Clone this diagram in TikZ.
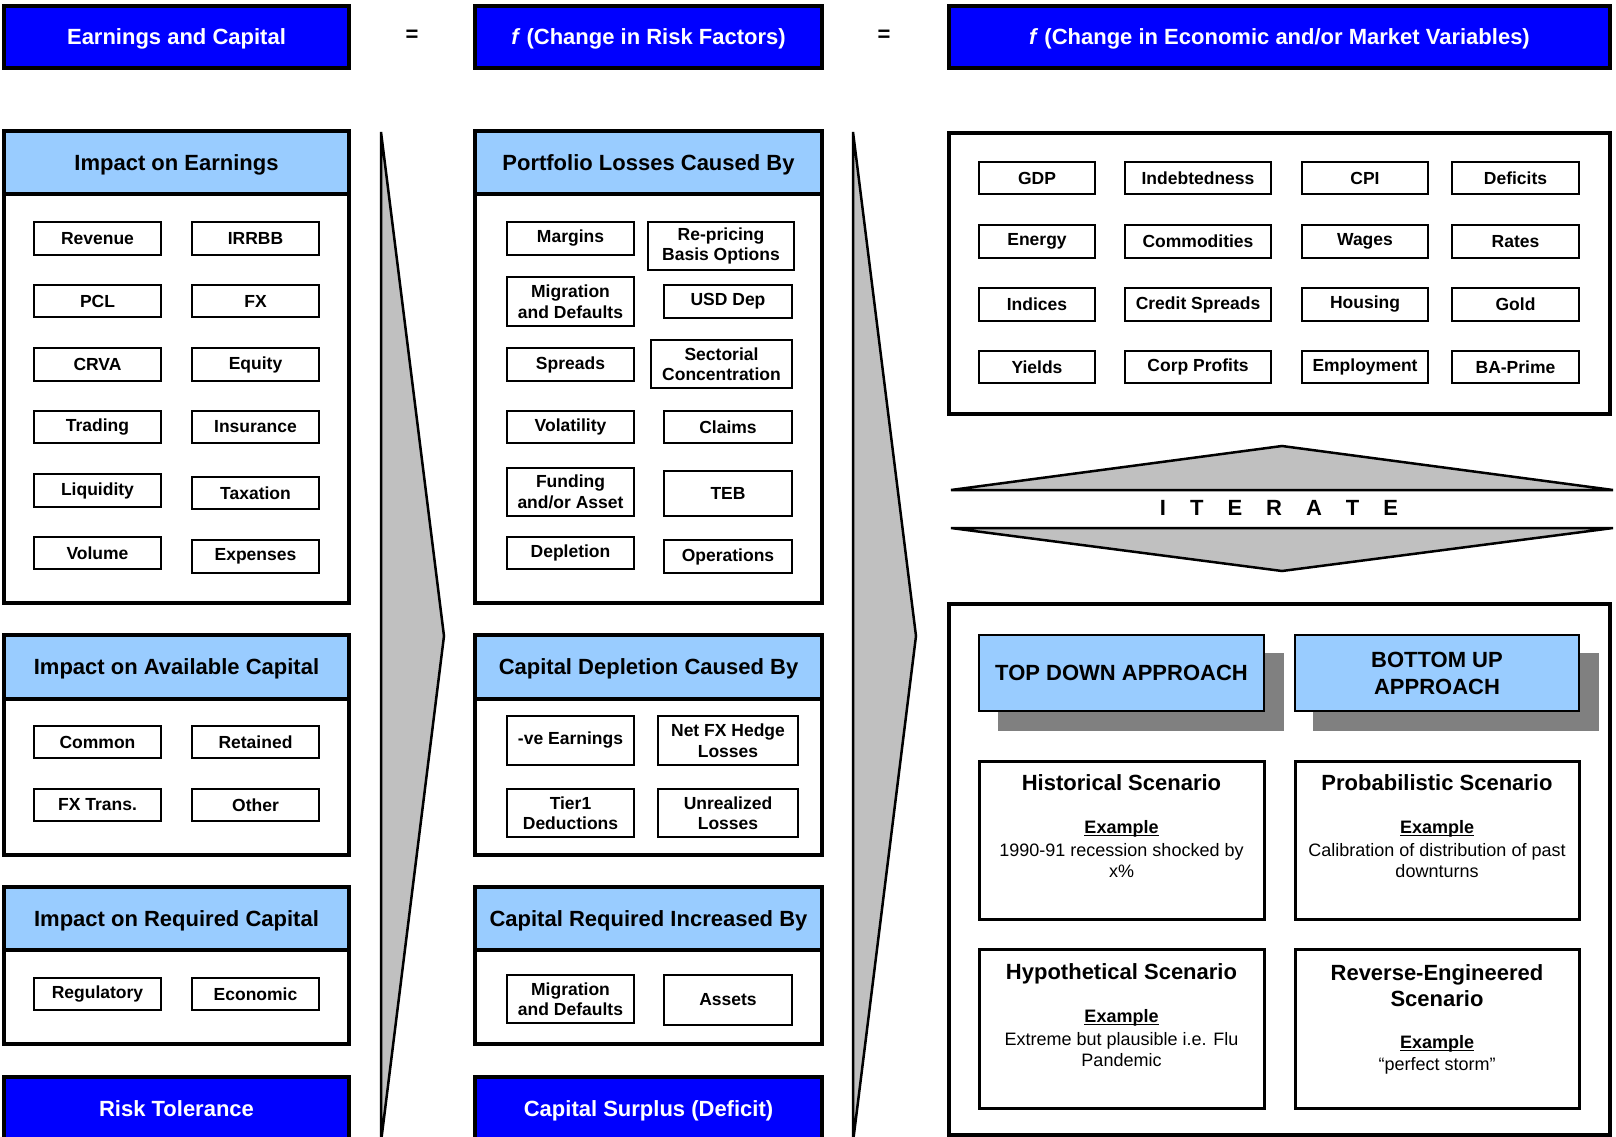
\documentclass[tikz,border=0pt]{standalone}
\usepackage{fontspec}
\setmainfont{Liberation Sans}
\definecolor{myblue}{HTML}{0000FF}
\definecolor{lightb}{HTML}{99CCFF}
\definecolor{agrey}{HTML}{C0C0C0}
\definecolor{sgrey}{HTML}{808080}
\newcommand\mybox[7][]{%
  \pgfmathsetmacro\bxcx{(#3+#5)/2}%
  \pgfmathsetmacro\bxcy{(#4+#6)/2}%
  \pgfmathsetmacro\bxw{#5-#3}%
  \pgfmathsetmacro\bxh{#6-#4}%
  \node[#1, minimum width=\bxw pt, minimum height=\bxh pt] (#2) at (\bxcx,\bxcy) {#7};}
\newcommand\myul[1]{{\setbox0\hbox{#1}\rlap{\rule[-2.6pt]{\wd0}{1.4pt}}\box0}}
\tikzset{
  big/.style={draw, line width=4pt, fill=myblue, text=white, inner sep=0pt,
    text height=15.8pt, text depth=0pt,
    font=\fontsize{22}{26}\selectfont\bfseries},
  hdr/.style={draw, line width=4pt, fill=lightb, inner sep=0pt,
    text height=15.8pt, text depth=0pt,
    font=\fontsize{22}{26}\selectfont\bfseries},
  body/.style={draw, line width=4pt, fill=white, inner sep=0pt},
  item/.style={draw, line width=2.5pt, fill=white, inner sep=0pt, align=center,
    font=\fontsize{17.5}{20.5}\selectfont\bfseries},
  scen/.style={draw, line width=3pt, fill=white, inner sep=0pt},
  appr/.style={draw, line width=2.5pt, fill=lightb, inner sep=0pt, align=center,
    font=\fontsize{22}{27}\selectfont\bfseries},
  shad/.style={fill=sgrey, inner sep=0pt},
  tri/.style={draw, line width=2.5pt, fill=agrey, line join=miter},
  eqs/.style={font=\fontsize{22}{26}\selectfont\bfseries, inner sep=0pt},
  stitle/.style={font=\fontsize{22}{26}\selectfont\bfseries, align=center, inner sep=0pt},
  sex/.style={font=\fontsize{18}{21}\selectfont\bfseries, inner sep=0pt},
  sbody/.style={font=\fontsize{18}{21}\selectfont, align=center, inner sep=0pt},
}
\begin{document}
\begin{tikzpicture}[x=1pt,y=-1pt]
\useasboundingbox (0,0) rectangle (1616,1137);
\fill[white] (0,0) rectangle (1616,1137);
% ---------- top row
\mybox[big]{ec}{4}{6}{349}{68}{Earnings and Capital}
\node[eqs] (eq1) at (412,36) {=};
\mybox[big]{rf}{475}{6}{822}{68}{\textit{f} (Change in Risk Factors)}
\node[eqs] (eq2) at (884,36) {=};
\mybox[big]{ev}{949}{6}{1610}{68}{\textit{f} (Change in Economic and/or Market Variables)}
% ---------- grey arrows
\draw[tri] (381,132) -- (444,636) -- (381,1142) -- cycle;
\draw[tri] (853,132) -- (916,636) -- (853,1142) -- cycle;
% ---------- left column
\mybox[body]{p1b}{4}{194}{349}{603}{}
\mybox[hdr]{p1h}{4}{131}{349}{194}{Impact on Earnings}
\mybox[item]{revenue}{34}{222}{161}{255}{Revenue}
\mybox[item]{irrbb}{192}{222}{319}{255}{IRRBB}
\mybox[item]{pcl}{34}{285}{161}{317}{PCL}
\mybox[item]{fx}{192}{285}{319}{317}{FX}
\mybox[item]{crva}{34}{348}{161}{381}{CRVA}
\mybox[item]{equity}{192}{348}{319}{381}{Equity}
\mybox[item]{trading}{34}{411}{161}{443}{Trading}
\mybox[item]{insurance}{192}{411}{319}{443}{Insurance}
\mybox[item]{liquidity}{34}{474}{161}{507}{Liquidity}
\mybox[item]{taxation}{192}{477}{319}{509}{Taxation}
\mybox[item]{volume}{34}{537}{161}{569}{Volume}
\mybox[item]{expenses}{192}{540}{319}{573}{Expenses}

\mybox[body]{p2b}{4}{699}{349}{855}{}
\mybox[hdr]{p2h}{4}{635}{349}{699}{Impact on Available Capital}
\mybox[item]{common}{34}{726}{161}{758}{Common}
\mybox[item]{retained}{192}{726}{319}{758}{Retained}
\mybox[item]{fxtrans}{34}{789}{161}{821}{FX Trans.}
\mybox[item]{other}{192}{789}{319}{821}{Other}

\mybox[body]{p3b}{4}{950}{349}{1044}{}
\mybox[hdr]{p3h}{4}{887}{349}{950}{Impact on Required Capital}
\mybox[item]{regulatory}{34}{978}{161}{1010}{Regulatory}
\mybox[item]{economic}{192}{978}{319}{1010}{Economic}

\mybox[big]{rt}{4}{1077}{349}{1140}{Risk Tolerance}
% ---------- middle column
\mybox[body]{m1b}{475}{194}{822}{603}{}
\mybox[hdr]{m1h}{475}{131}{822}{194}{Portfolio Losses Caused By}
\mybox[item]{margins}{507}{222}{634}{255}{Margins}
\mybox[item]{repricing}{648}{222}{794}{270}{Re-pricing\\Basis Options}
\mybox[item]{migration}{507}{277}{634}{326}{Migration\\and Defaults}
\mybox[item]{usddep}{664}{285}{792}{318}{USD Dep}
\mybox[item]{spreads}{507}{348}{634}{381}{Spreads}
\mybox[item]{sectorial}{651}{340}{792}{388}{Sectorial\\Concentration}
\mybox[item]{volatility}{507}{411}{634}{443}{Volatility}
\mybox[item]{claims}{664}{411}{792}{443}{Claims}
\mybox[item]{funding}{507}{468}{634}{516}{Funding\\and/or Asset}
\mybox[item]{teb}{664}{471}{792}{516}{TEB}
\mybox[item]{depletion}{507}{537}{634}{569}{Depletion}
\mybox[item]{operations}{664}{540}{792}{573}{Operations}

\mybox[body]{m2b}{475}{699}{822}{855}{}
\mybox[hdr]{m2h}{475}{635}{822}{699}{Capital Depletion Caused By}
\mybox[item]{veearn}{507}{716}{634}{765}{-ve Earnings}
\mybox[item]{netfx}{658}{716}{798}{765}{Net FX Hedge\\Losses}
\mybox[item]{tier1}{507}{789}{634}{837}{Tier1\\Deductions}
\mybox[item]{unreal}{658}{789}{798}{837}{Unrealized\\Losses}

\mybox[body]{m3b}{475}{950}{822}{1044}{}
\mybox[hdr]{m3h}{475}{887}{822}{950}{Capital Required Increased By}
\mybox[item]{migration2}{507}{975}{634}{1023}{Migration\\and Defaults}
\mybox[item]{assets}{664}{975}{792}{1025}{Assets}

\mybox[big]{cs}{475}{1077}{822}{1140}{Capital Surplus (Deficit)}
% ---------- right column
\mybox[body]{r1}{949}{133}{1610}{414}{}
\mybox[item]{gdp}{979}{162}{1095}{194}{GDP}
\mybox[item]{indebt}{1125}{162}{1271}{194}{Indebtedness}
\mybox[item]{cpi}{1302}{162}{1428}{194}{CPI}
\mybox[item]{deficits}{1452}{162}{1579}{194}{Deficits}
\mybox[item]{energy}{979}{225}{1095}{258}{Energy}
\mybox[item]{commod}{1125}{225}{1271}{258}{Commodities}
\mybox[item]{wages}{1302}{225}{1428}{258}{Wages}
\mybox[item]{rates}{1452}{225}{1579}{258}{Rates}
\mybox[item]{indices}{979}{288}{1095}{321}{Indices}
\mybox[item]{credsp}{1125}{288}{1271}{321}{Credit Spreads}
\mybox[item]{housing}{1302}{288}{1428}{321}{Housing}
\mybox[item]{gold}{1452}{288}{1579}{321}{Gold}
\mybox[item]{yields}{979}{351}{1095}{383}{Yields}
\mybox[item]{corpprof}{1125}{351}{1271}{383}{Corp Profits}
\mybox[item]{employ}{1302}{351}{1428}{383}{Employment}
\mybox[item]{baprime}{1452}{351}{1579}{383}{BA-Prime}

% ITERATE
\draw[tri] (951,490) -- (1282,446) -- (1613,490) -- cycle;
\draw[tri] (951,528) -- (1613,528) -- (1282,571) -- cycle;
\node[eqs] (iterate) at (1279,508) {I\hskip24pt T\hskip24pt E\hskip24pt R\hskip24pt A\hskip24pt T\hskip24pt E};

\mybox[body]{r2}{949}{604}{1610}{1135}{}
\mybox[shad]{tdshadow}{998}{653}{1284}{731}{}
\mybox[shad]{bushadow}{1313}{653}{1599}{731}{}
\mybox[appr]{topdown}{979}{635}{1264}{711}{TOP DOWN APPROACH}
\mybox[appr]{bottomup}{1295}{635}{1579}{711}{BOTTOM UP\\APPROACH}

\mybox[scen]{hist}{979}{761}{1264}{919}{}
\mybox[scen]{prob}{1295}{761}{1579}{919}{}
\mybox[scen]{hypo}{979}{949}{1264}{1108}{}
\mybox[scen]{rev}{1295}{949}{1579}{1108}{}

\node[stitle] (hist-t) at (1121.5,783) {Historical Scenario};
\node[sex] (hist-e) at (1121.5,829) {\myul{Example}};
\node[sbody] (hist-b) at (1121.5,861) {1990-91 recession shocked by\\x\%};

\node[stitle] (prob-t) at (1437,783) {Probabilistic Scenario};
\node[sex] (prob-e) at (1437,829) {\myul{Example}};
\node[sbody] (prob-b) at (1437,861) {Calibration of distribution of past\\downturns};

\node[stitle] (hypo-t) at (1121.5,974) {Hypothetical Scenario};
\node[sex] (hypo-e) at (1121.5,1018) {\myul{Example}};
\node[sbody] (hypo-b) at (1121.5,1050) {Extreme but plausible i.e. Flu\\Pandemic};

\node[stitle] (rev-t) at (1437,986) {Reverse-Engineered\\Scenario};
\node[sex] (rev-e) at (1437,1044) {\myul{Example}};
\node[sbody] (rev-b) at (1437,1066) {“perfect storm”};
\end{tikzpicture}
\end{document}
